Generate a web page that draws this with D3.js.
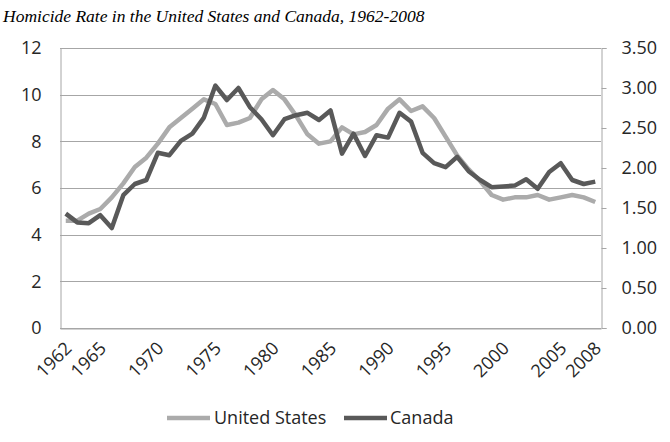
<!DOCTYPE html>
<html>
<head>
<meta charset="utf-8">
<script src="https://cdn.jsdelivr.net/npm/d3@7"></script>
<style>
  html, body { margin: 0; padding: 0; background: #fff; }
  svg { display: block; }
</style>
</head>
<body>
<svg id="chart" width="670" height="442"></svg>
<script>
const years = d3.range(1962, 2009);
const usRate = [4.6, 4.6, 4.9, 5.1, 5.6, 6.2, 6.9, 7.3, 7.9, 8.6, 9.0, 9.4, 9.8, 9.6, 8.7, 8.8, 9.0, 9.8, 10.2, 9.8, 9.1, 8.3, 7.9, 8.0, 8.6, 8.3, 8.4, 8.7, 9.4, 9.8, 9.3, 9.5, 9.0, 8.2, 7.4, 6.8, 6.3, 5.7, 5.5, 5.6, 5.6, 5.7, 5.5, 5.6, 5.7, 5.6, 5.4];
const canadaRate = [1.43, 1.32, 1.31, 1.41, 1.25, 1.66, 1.80, 1.85, 2.19, 2.16, 2.34, 2.43, 2.63, 3.03, 2.85, 3.00, 2.76, 2.61, 2.41, 2.61, 2.66, 2.69, 2.60, 2.72, 2.18, 2.43, 2.15, 2.41, 2.38, 2.69, 2.58, 2.19, 2.06, 2.01, 2.14, 1.96, 1.85, 1.76, 1.77, 1.78, 1.86, 1.74, 1.95, 2.06, 1.85, 1.80, 1.83];
const xTickYears = [1962, 1965, 1970, 1975, 1980, 1985, 1990, 1995, 2000, 2005, 2008];
const leftTicks = [0, 2, 4, 6, 8, 10, 12];
const rightTicks = [0, 0.5, 1, 1.5, 2, 2.5, 3, 3.5];
const titleText = "Homicide Rate in the United States and Canada, 1962-2008";
const seriesNames = ["United States", "Canada"];

const svg = d3.select("#chart");
const L = 60, R = 601, T = 48, B = 328;
const gridColor = "#a6a6a6";
const usColor = "#ababab", caColor = "#595959";
const font = "'Open Sans', sans-serif";

const x = d3.scaleBand().domain(years).range([L, R]);
const yL = d3.scaleLinear().domain([0, 12]).range([B, T]);
const yR = d3.scaleLinear().domain([0, 3.5]).range([B, T]);

// title
svg.append("text").attr("x", 3).attr("y", 22)
  .attr("font-family", "'Liberation Serif', 'Times New Roman', serif")
  .attr("font-style", "italic").attr("font-size", 17.5).attr("fill", "#000")
  .text(titleText);

// gridlines
svg.append("g").selectAll("line").data(leftTicks).join("line")
  .attr("x1", L).attr("x2", R)
  .attr("y1", d => Math.round(yL(d)) + 0.5).attr("y2", d => Math.round(yL(d)) + 0.5)
  .attr("stroke", gridColor).attr("stroke-width", 1);

// left axis
const gL = svg.append("g").attr("transform", `translate(${L + 0.5},0)`)
  .call(d3.axisLeft(yL).tickValues(leftTicks).tickSize(0).tickPadding(19).tickFormat(d3.format("d")));
gL.select(".domain").attr("stroke", gridColor);
gL.selectAll("text").attr("font-family", font).attr("font-size", 18).attr("fill", "#262626");

// right axis
const gR = svg.append("g").attr("transform", `translate(${R + 0.5},0)`)
  .call(d3.axisRight(yR).tickValues(rightTicks).tickSize(5).tickPadding(15).tickFormat(d3.format(".2f")));
gR.select(".domain").attr("stroke", gridColor);
gR.selectAll(".tick line").attr("stroke", gridColor);
gR.selectAll("text").attr("font-family", font).attr("font-size", 18).attr("fill", "#262626");

// bottom axis
const gB = svg.append("g").attr("transform", `translate(0,${B + 0.5})`)
  .call(d3.axisBottom(x).tickValues(xTickYears).tickSize(0).tickPadding(0));
gB.select(".domain").attr("stroke", gridColor);
gB.selectAll("text")
  .attr("font-family", font).attr("font-size", 18).attr("fill", "#262626")
  .attr("text-anchor", "end").attr("dy", null).attr("y", 0)
  .attr("transform", "translate(7,21) rotate(-45)");

// lines
const lineUS = d3.line().x((d, i) => x(years[i]) + x.bandwidth() / 2).y(d => yL(d));
const lineCA = d3.line().x((d, i) => x(years[i]) + x.bandwidth() / 2).y(d => yR(d));
svg.append("path").datum(usRate).attr("d", lineUS)
  .attr("fill", "none").attr("stroke", usColor).attr("stroke-width", 4.5).attr("stroke-linejoin", "round");
svg.append("path").datum(canadaRate).attr("d", lineCA)
  .attr("fill", "none").attr("stroke", caColor).attr("stroke-width", 4.5).attr("stroke-linejoin", "round");

// legend
const legend = [
  { name: seriesNames[0], color: usColor, x1: 167, x2: 210, tx: 214 },
  { name: seriesNames[1], color: caColor, x1: 344, x2: 387, tx: 390 }
];
const lg = svg.append("g");
legend.forEach(d => {
  lg.append("line").attr("x1", d.x1).attr("x2", d.x2).attr("y1", 418).attr("y2", 418)
    .attr("stroke", d.color).attr("stroke-width", 4.5);
  lg.append("text").attr("x", d.tx).attr("y", 418).attr("dy", "0.35em")
    .attr("font-family", font).attr("font-size", 18).attr("fill", "#262626").text(d.name);
});
</script>
</body>
</html>
